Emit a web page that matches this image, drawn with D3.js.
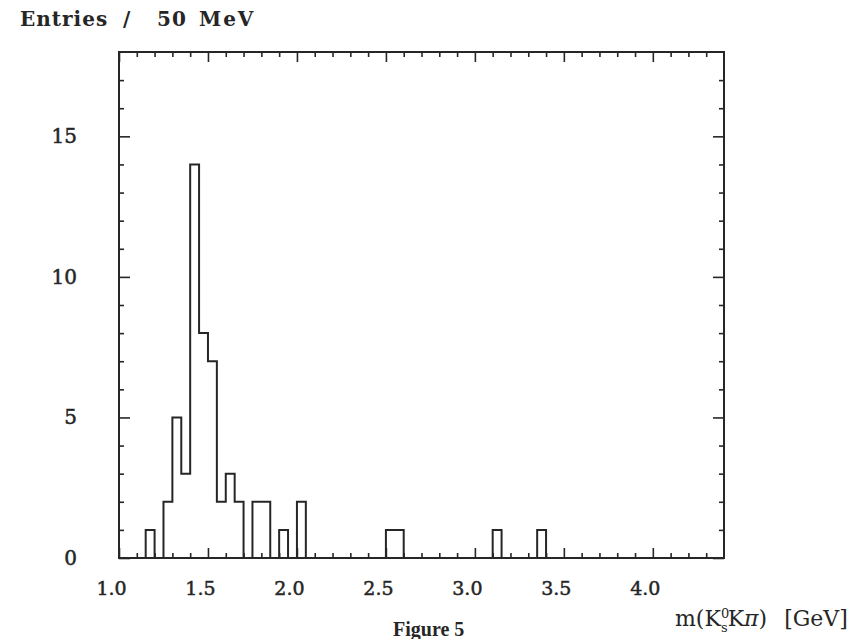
<!DOCTYPE html>
<html>
<head>
<meta charset="utf-8">
<script src="https://cdn.jsdelivr.net/npm/d3@7"></script>
<style>
  html, body { margin: 0; padding: 0; background: #fff; }
  svg { display: block; }
  text { fill: #262626; }
</style>
</head>
<body>
<svg id="chart" width="855" height="639"></svg>
<script>
// K0s K pi invariant mass spectrum, 50 MeV bins starting at 1.00 GeV
const massStart = 1.00;   // GeV, low edge of the first bin
const binWidth = 0.05;    // GeV
const counts = [
  0, 0, 0, 1, 0, 2, 5, 3, 14, 8,
  7, 2, 3, 2, 0, 2, 2, 0, 1, 0,
  2, 0, 0, 0, 0, 0, 0, 0, 0, 0,
  1, 1, 0, 0, 0, 0, 0, 0, 0, 0,
  0, 0, 1, 0, 0, 0, 0, 1, 0, 0,
  0, 0, 0, 0, 0, 0, 0, 0, 0, 0,
  0, 0, 0, 0, 0, 0, 0, 0
];

const xMajorTicks = [1.0, 1.5, 2.0, 2.5, 3.0, 3.5, 4.0];
const xMinorTicks = [1.1, 1.2, 1.3, 1.4, 1.6, 1.7, 1.8, 1.9, 2.1, 2.2, 2.3, 2.4,
  2.6, 2.7, 2.8, 2.9, 3.1, 3.2, 3.3, 3.4, 3.6, 3.7, 3.8, 3.9, 4.1, 4.2, 4.3];
const yMajorTicks = [0, 5, 10, 15];
const yMinorTicks = [1, 2, 3, 4, 6, 7, 8, 9, 11, 12, 13, 14, 16, 17];

const ink = "#262626";
const svg = d3.select("#chart");

const frame = { left: 119, right: 724, top: 52, bottom: 558 };

const x = d3.scaleLinear().domain([1.0, 4.4]).range([frame.left, frame.right]);
const y = d3.scaleLinear().domain([0, 18]).range([frame.bottom, frame.top]);

// tick marks on all four sides, pointing into the frame
function tickAxis(axisFn, scale, values, size, transform) {
  const g = svg.append("g")
    .attr("transform", transform)
    .call(axisFn(scale).tickValues(values).tickSize(size).tickFormat(""));
  g.select(".domain").remove();
  g.selectAll("line").attr("stroke", ink).attr("stroke-width", 1.6);
  return g;
}

tickAxis(d3.axisBottom, x, xMinorTicks, -5, `translate(0,${frame.bottom})`);
tickAxis(d3.axisTop, x, xMinorTicks, -5, `translate(0,${frame.top})`);
tickAxis(d3.axisTop, x, xMajorTicks, -10, `translate(0,${frame.top})`);
tickAxis(d3.axisLeft, y, yMinorTicks, -5, `translate(${frame.left},0)`);
tickAxis(d3.axisRight, y, yMinorTicks, -5, `translate(${frame.right},0)`);
tickAxis(d3.axisRight, y, yMajorTicks, -11, `translate(${frame.right},0)`);

// labelled major ticks, bottom and left
const xAxis = svg.append("g")
  .attr("transform", `translate(0,${frame.bottom})`)
  .call(d3.axisBottom(x).tickValues(xMajorTicks).tickSize(-10).tickPadding(24)
    .tickFormat(d3.format(".1f")));
xAxis.select(".domain").remove();
xAxis.selectAll("line").attr("stroke", ink).attr("stroke-width", 1.6);
xAxis.selectAll("text")
  .attr("dx", -8)
  .style("font-family", "'DejaVu Serif', serif")
  .style("font-size", "19px")
  .style("fill", ink)
  .style("stroke", ink).style("stroke-width", 0.5);

const yAxis = svg.append("g")
  .attr("transform", `translate(${frame.left},0)`)
  .call(d3.axisLeft(y).tickValues(yMajorTicks).tickSize(-11).tickPadding(42)
    .tickFormat(d3.format("d")));
yAxis.select(".domain").remove();
yAxis.selectAll("line").attr("stroke", ink).attr("stroke-width", 1.6);
yAxis.selectAll("text")
  .style("font-family", "'DejaVu Serif', serif")
  .style("font-size", "20px")
  .style("fill", ink)
  .style("stroke", ink).style("stroke-width", 0.5);

// histogram outline as a step line
const steps = counts.map((c, i) => [massStart + i * binWidth, c]);
steps.push([massStart + counts.length * binWidth, 0]);
const stepLine = d3.line()
  .x(d => x(d[0]))
  .y(d => y(d[1]))
  .curve(d3.curveStepAfter);

svg.append("path")
  .datum(steps)
  .attr("d", stepLine)
  .attr("fill", "none")
  .attr("stroke", ink)
  .attr("stroke-width", 2)
  .attr("stroke-linejoin", "miter");

// frame
svg.append("rect")
  .attr("x", frame.left).attr("y", frame.top)
  .attr("width", frame.right - frame.left)
  .attr("height", frame.bottom - frame.top)
  .attr("fill", "none")
  .attr("stroke", ink)
  .attr("stroke-width", 2);

// y-axis title, typewriter-spaced words
const yt = svg.append("text")
  .attr("y", 26)
  .style("font-family", "'DejaVu Serif', serif")
  .style("font-weight", "bold")
  .style("font-size", "20px")
  .style("letter-spacing", "1px");
yt.append("tspan").attr("x", 20).text("Entries");
yt.append("tspan").attr("x", 123).text("/");
yt.append("tspan").attr("x", 157).text("50");
yt.append("tspan").attr("x", 199).style("letter-spacing", "2px").text("MeV");

// x-axis title with stacked K0s script
const xt = svg.append("text")
  .attr("x", 675).attr("y", 626)
  .style("font-family", "'DejaVu Serif', serif")
  .style("font-size", "22px");
xt.append("tspan").text("m(K");
xt.append("tspan").attr("dy", -8).style("font-size", "13px").text("0");
xt.append("tspan").attr("dx", -8.2).attr("dy", 14).style("font-size", "13px").text("s");
xt.append("tspan").attr("dy", -6).text("K");
xt.append("tspan").style("font-style", "italic").text("π");
xt.append("tspan").text(")");
xt.append("tspan").attr("dx", 17).text("[GeV]");

// caption
svg.append("text")
  .attr("x", 393).attr("y", 636)
  .style("font-family", "'Liberation Serif', serif")
  .style("font-weight", "bold")
  .style("font-size", "20px")
  .text("Figure 5");
</script>
</body>
</html>
